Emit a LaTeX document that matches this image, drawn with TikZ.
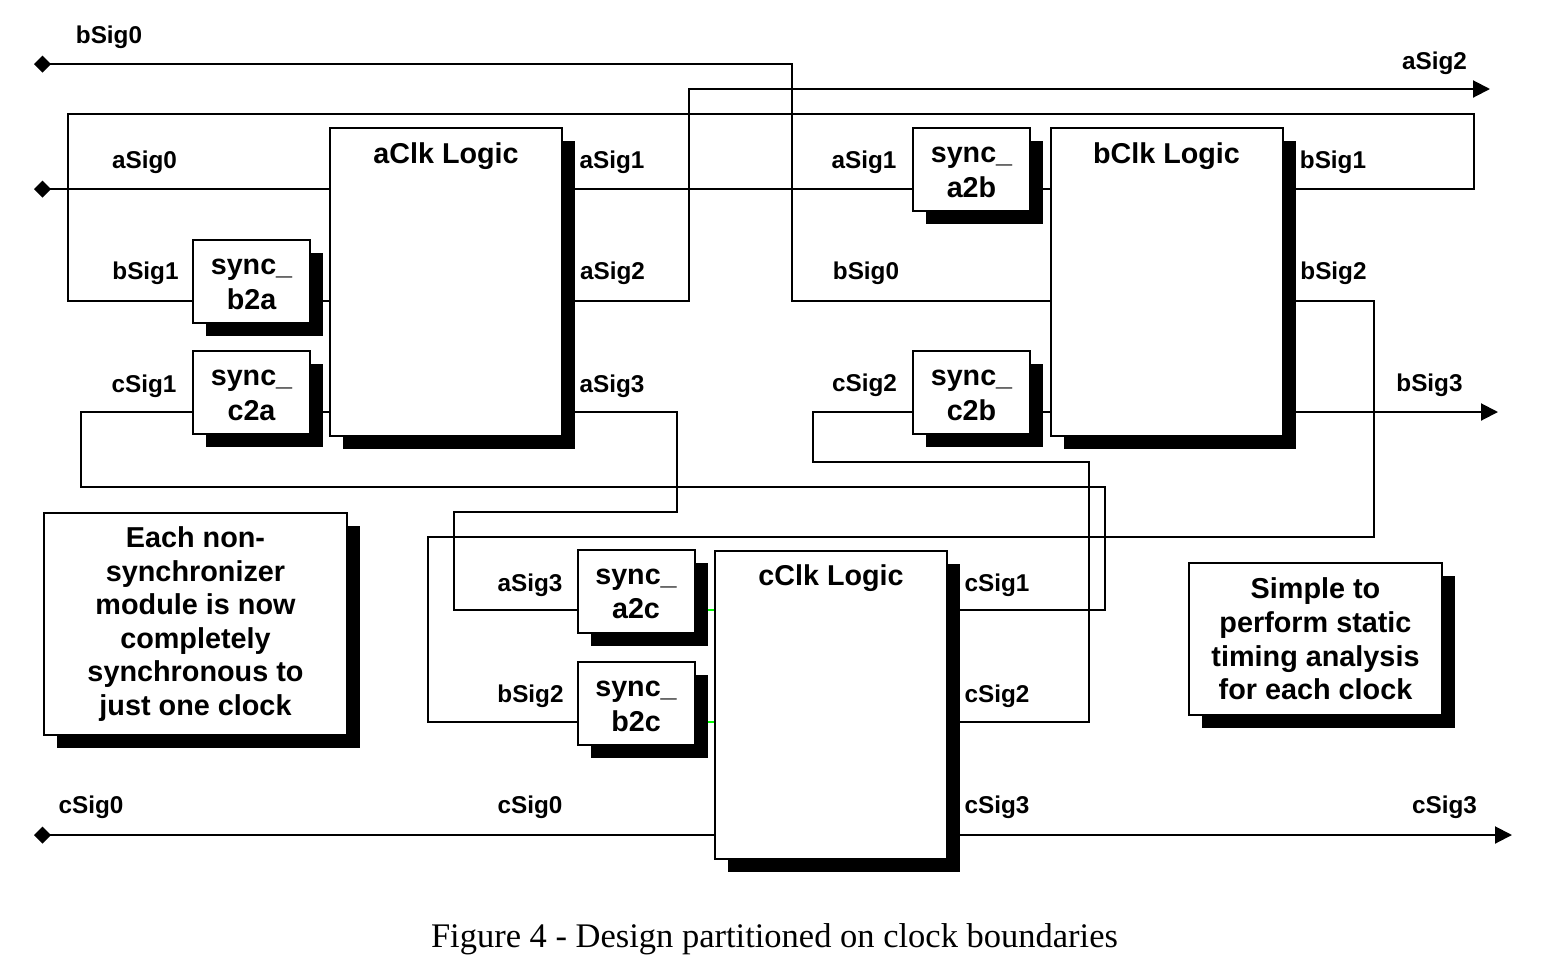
\documentclass[tikz,border=0pt]{standalone}
\usepackage{fontspec}
\setmainfont{Liberation Serif}
\setsansfont{Liberation Sans}
\usetikzlibrary{arrows.meta,shadows,backgrounds}

\newcommand{\syncname}[1]{\rule{0pt}{21pt}sync\_\\#1}

\begin{document}
\begin{tikzpicture}[
  x=1pt, y=-1pt,
  shadowed/.style={drop shadow={shadow xshift=13pt, shadow yshift=-13pt,
                   opacity=1, fill=black}},
  logic/.style={rectangle, draw, line width=2pt, fill=white, shadowed,
                minimum width=232pt, text height=35pt, text depth=273pt,
                inner ysep=0pt,
                font=\sffamily\bfseries\fontsize{28.7}{34}\selectfont},
  syncbox/.style={rectangle, draw, line width=2pt, fill=white, shadowed,
                  minimum width=117pt, minimum height=83pt, inner sep=0pt,
                  align=center,
                  font=\sffamily\bfseries\fontsize{28.7}{34.5}\selectfont},
  notebox/.style={rectangle, draw, line width=1.5pt, fill=white, shadowed,
                  align=center, inner sep=0pt,
                  font=\sffamily\bfseries\fontsize{28.8}{33.6}\selectfont},
  sig/.style={font=\sffamily\bfseries\fontsize{24.3}{28}\selectfont,
              inner sep=0pt},
  wire/.style={draw, line width=2pt},
  inport/.style={arrows={{Diamond[length=17pt, width=17pt]}-}},
  outport/.style={arrows={-{Triangle[length=17pt, width=17pt]}}},
]
  \useasboundingbox (0,0) rectangle (1543,959);

  % ===== Clock domain logic =====
  \node[logic] (aclk) at (446,282)   {aClk Logic};
  \node[logic] (bclk) at (1166.5,282) {bClk Logic};
  \node[logic] (cclk) at (831,704.5) {cClk Logic};

  % ===== Synchronizers =====
  \node[syncbox] (sba) at (251.5,281.5) {\syncname{b2a}};
  \node[syncbox] (sca) at (251.5,392.5) {\syncname{c2a}};
  \node[syncbox] (sab) at (971.5,169.5) {\syncname{a2b}};
  \node[syncbox] (scb) at (971.5,392.5) {\syncname{c2b}};
  \node[syncbox] (sac) at (636,591)     {\syncname{a2c}};
  \node[syncbox] (sbc) at (636,703.5)   {\syncname{b2c}};

  % ===== Notes =====
  \node[notebox, minimum width=303pt, minimum height=222pt] (noteleft)
       at (195.5,624)
       {Each non-\\synchronizer\\module is now\\completely\\synchronous to\\just one clock};
  \node[notebox, minimum width=253pt, minimum height=152pt] (noteright)
       at (1315.5,639)
       {Simple to\\perform static\\timing analysis\\for each clock};

  % ===== Ports =====
  \coordinate (bsig0in)  at (34,64);
  \coordinate (asig0in)  at (34,189);
  \coordinate (csig0in)  at (34,835);
  \coordinate (asig2out) at (1490,89);
  \coordinate (bsig3out) at (1498,412);
  \coordinate (csig3out) at (1512,835);

  % ===== Wires =====
  \draw[wire, inport] (bsig0in) -| (792,301) -- (bclk.west |- 0,301);
  \draw[wire, inport] (asig0in) -- (aclk.west |- asig0in);
  \draw[wire, inport] (csig0in) -- (cclk.west |- csig0in);

  \draw[wire] (aclk.east |- 0,189) -- (sab.west |- 0,189);
  \draw[wire, outport] (aclk.east |- 0,301) -| (689,89) -- (asig2out);
  \draw[wire] (aclk.east |- 0,412) -| (677,512) -| (454,610) -- (sac.west |- 0,610);

  \draw[wire] (bclk.east |- 0,189) -| (1474,114) -| (68,301) -- (sba.west |- 0,301);
  \draw[wire] (bclk.east |- 0,301) -| (1374,537) -| (428,722) -- (sbc.west |- 0,722);
  \draw[wire, outport] (bclk.east |- 0,412) -- (bsig3out);

  \draw[wire] (cclk.east |- 0,610) -| (1105,487) -| (81,412) -- (sca.west |- 0,412);
  \draw[wire] (cclk.east |- 0,722) -| (1089,462) -| (813,412) -- (scb.west |- 0,412);
  \draw[wire, outport] (cclk.east |- 0,835) -- (csig3out);

  % synchronizer outputs sit behind the shadows
  \begin{scope}[on background layer]
    \draw[wire] (sba.east |- 0,301) -- (aclk.west |- 0,301);
    \draw[wire] (sca.east |- 0,412) -- (aclk.west |- 0,412);
    \draw[wire] (sab.east |- 0,189) -- (bclk.west |- 0,189);
    \draw[wire] (scb.east |- 0,412) -- (bclk.west |- 0,412);
    \draw[wire, green] (sac.east |- 0,610) -- (cclk.west |- 0,610);
    \draw[wire, green] (sbc.east |- 0,722) -- (cclk.west |- 0,722);
  \end{scope}

  % ===== Signal labels =====
  \node[sig] (tbsig0)  at (109,37)     {bSig0};
  \node[sig] (tasig2)  at (1434.5,63)  {aSig2};
  \node[sig] (tasig0)  at (144.5,162)  {aSig0};
  \node[sig] (tasig1a) at (612,162)    {aSig1};
  \node[sig] (tasig1b) at (864,162)    {aSig1};
  \node[sig] (tbsig1a) at (1333,162)   {bSig1};
  \node[sig] (tbsig1b) at (145.5,273)  {bSig1};
  \node[sig] (tasig2a) at (612.5,273)  {aSig2};
  \node[sig] (tbsig0b) at (866,273)    {bSig0};
  \node[sig] (tbsig2a) at (1333.5,273) {bSig2};
  \node[sig] (tcsig1b) at (144,386)    {cSig1};
  \node[sig] (tasig3a) at (612,386)    {aSig3};
  \node[sig] (tcsig2b) at (864.5,385)  {cSig2};
  \node[sig] (tbsig3)  at (1429.5,385) {bSig3};
  \node[sig] (tasig3b) at (530,585)    {aSig3};
  \node[sig] (tcsig1a) at (997,585)    {cSig1};
  \node[sig] (tbsig2b) at (530.5,696)  {bSig2};
  \node[sig] (tcsig2a) at (997,696)    {cSig2};
  \node[sig] (tcsig0)  at (91,807)     {cSig0};
  \node[sig] (tcsig0b) at (530,807)    {cSig0};
  \node[sig] (tcsig3a) at (997,807)    {cSig3};
  \node[sig] (tcsig3)  at (1444.5,807) {cSig3};

  % ===== Caption =====
  \node[font=\fontsize{34.5}{40}\selectfont, anchor=base, inner sep=0pt]
       (caption) at (774.5,947) {Figure 4 - Design partitioned on clock boundaries};

\end{tikzpicture}
\end{document}
